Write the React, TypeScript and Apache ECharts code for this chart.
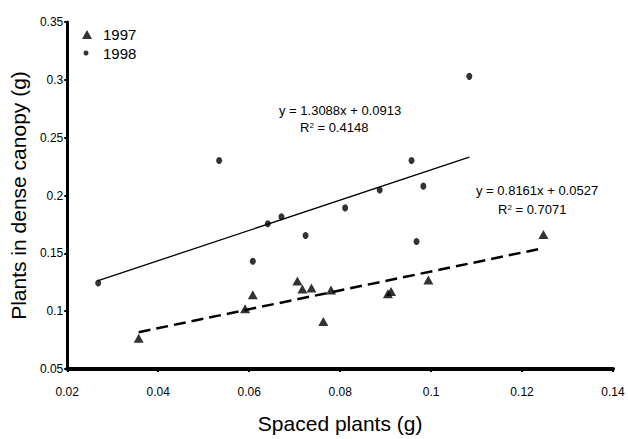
import React, { useEffect, useRef } from "react";
import * as echarts from "echarts";

// 1997 data (triangles): spaced plants (g) vs plants in dense canopy (g)
const x1997 = [0.0357, 0.0591, 0.0608, 0.0706, 0.0717, 0.0737, 0.0780, 0.0763, 0.0905, 0.0912, 0.0994, 0.1247];
const y1997 = [0.0765, 0.1021, 0.1141, 0.1261, 0.1192, 0.1201, 0.1184, 0.0910, 0.1150, 0.1170, 0.1269, 0.1663];

// 1998 data (circles)
const x1998 = [0.0268, 0.0534, 0.0608, 0.0641, 0.0671, 0.0724, 0.0811, 0.0887, 0.0957, 0.0983, 0.0968, 0.1084];
const y1998 = [0.1244, 0.2303, 0.1432, 0.1756, 0.1816, 0.1654, 0.1893, 0.2047, 0.2303, 0.2081, 0.1603, 0.3030];

// Trend line end points (as drawn)
const trend1998X = [0.0268, 0.1084];
const trend1998Y = [0.1264, 0.2332];
const trend1997X = [0.0357, 0.1247];
const trend1997Y = [0.0818, 0.1545];

const eq1998 = "y = 1.3088x + 0.0913";
const r2_1998 = " = 0.4148";
const eq1997 = "y = 0.8161x + 0.0527";
const r2_1997 = " = 0.7071";

const seriesNames = ["1997", "1998"];

const FONT = "'Liberation Sans', Arial, sans-serif";

const zip = (xs: number[], ys: number[]) => xs.map((x, i) => [x, ys[i]]);
const fmt = (v: number) => String(parseFloat(v.toFixed(3)));

export default function App() {
  const ref = useRef<HTMLDivElement>(null);
  useEffect(() => {
    if (!ref.current) return;
    const chart = echarts.init(ref.current, null, { renderer: "svg" });
    const rich = {
      n: { fontSize: 13, fontFamily: FONT, color: "#000" },
      sup: { fontSize: 8, fontFamily: FONT, color: "#000", verticalAlign: "top" },
    };
    chart.setOption({
      animation: false,
      backgroundColor: "#fff",
      textStyle: { fontFamily: FONT },
      grid: { left: 63, right: 15, top: 22, bottom: 66, containLabel: false },
      legend: [
        {
          data: [{ name: seriesNames[0], icon: "triangle" }],
          left: 82,
          top: 27,
          padding: 0,
          itemWidth: 10,
          itemHeight: 9,
          textStyle: { fontSize: 15, color: "#000", fontFamily: FONT, padding: [10, 0, 0, 6] },
        },
        {
          data: [{ name: seriesNames[1], icon: "circle" }],
          left: 83.5,
          top: 45.5,
          padding: 0,
          itemWidth: 5,
          itemHeight: 5,
          textStyle: { fontSize: 15, color: "#000", fontFamily: FONT, padding: [12, 0, 0, 9.5] },
        },
      ],
      xAxis: {
        type: "value",
        min: 0.02,
        max: 0.14,
        interval: 0.02,
        name: "Spaced plants (g)",
        nameLocation: "middle",
        nameGap: 44,
        nameTextStyle: { fontSize: 21, color: "#000", fontFamily: FONT },
        axisLine: { show: true, onZero: false, lineStyle: { color: "#000", width: 4 } },
        axisTick: { show: true, length: 3, lineStyle: { color: "#000", width: 2 } },
        axisLabel: { formatter: fmt, fontSize: 12, color: "#000", margin: 17, fontFamily: FONT },
        splitLine: { show: false },
      },
      yAxis: {
        type: "value",
        min: 0.05,
        max: 0.35,
        interval: 0.05,
        name: "Plants in dense canopy (g)",
        nameLocation: "middle",
        nameGap: 36,
        nameRotate: 90,
        nameTextStyle: { fontSize: 21, color: "#000", fontFamily: FONT },
        axisLine: { show: true, onZero: false, lineStyle: { color: "#000", width: 3 } },
        axisTick: { show: true, length: 3, lineStyle: { color: "#000", width: 2 } },
        axisLabel: { formatter: fmt, fontSize: 12, color: "#000", margin: 4, fontFamily: FONT },
        splitLine: { show: false },
      },
      series: [
        {
          name: seriesNames[0],
          type: "scatter",
          symbol: "triangle",
          symbolSize: [10, 9],
          itemStyle: { color: "#000" },
          data: zip(x1997, y1997),
          z: 5,
        },
        {
          name: seriesNames[1],
          type: "scatter",
          symbol: "circle",
          symbolSize: [6, 7],
          itemStyle: { color: "#000" },
          data: zip(x1998, y1998),
          z: 5,
        },
        {
          name: "Trend 1998",
          type: "line",
          showSymbol: false,
          symbol: "none",
          data: zip(trend1998X, trend1998Y),
          lineStyle: { color: "#000", width: 1.3 },
          z: 3,
        },
        {
          name: "Trend 1997",
          type: "line",
          showSymbol: false,
          symbol: "none",
          data: zip(trend1997X, trend1997Y),
          lineStyle: { color: "#000", width: 2.5, type: [12, 6] },
          z: 3,
        },
      ],
      graphic: [
        {
          type: "text",
          left: 279,
          top: 104,
          style: { text: eq1998, font: `13px ${FONT}`, fill: "#000" },
        },
        {
          type: "text",
          left: 300,
          top: 121,
          style: { text: `{n|R}{sup|2}{n|${r2_1998}}`, rich, fill: "#000" },
        },
        {
          type: "text",
          left: 476,
          top: 184,
          style: { text: eq1997, font: `13px ${FONT}`, fill: "#000" },
        },
        {
          type: "text",
          left: 498,
          top: 203,
          style: { text: `{n|R}{sup|2}{n|${r2_1997}}`, rich, fill: "#000" },
        },
      ],
    });
    return () => chart.dispose();
  }, []);
  return (
    <div
      ref={ref}
      style={{ position: "fixed", left: 0, top: 0, width: 628, height: 439, background: "#fff" }}
    />
  );
}
